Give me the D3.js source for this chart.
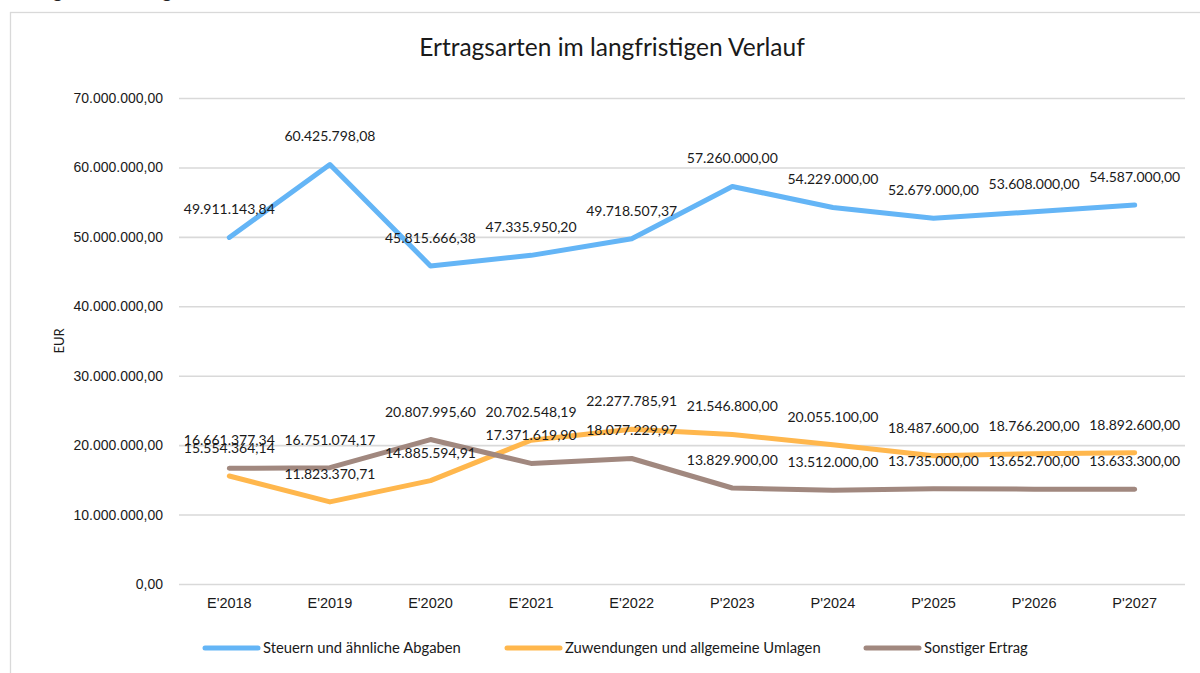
<!DOCTYPE html>
<html>
<head>
<meta charset="utf-8">
<script src="https://cdn.jsdelivr.net/npm/d3@7"></script>
<style>
  body { margin: 0; background: #fff; }
  svg { display: block; font-family: Lato, "Noto Sans", sans-serif; }
</style>
</head>
<body>
<svg id="chart" width="1200" height="673"></svg>
<script>
const categories = ["E'2018", "E'2019", "E'2020", "E'2021", "E'2022", "P'2023", "P'2024", "P'2025", "P'2026", "P'2027"];
const steuern = [49911143.84, 60425798.08, 45815666.38, 47335950.20, 49718507.37, 57260000, 54229000, 52679000, 53608000, 54587000];
const zuwendungen = [15554364.14, 11823370.71, 14885594.91, 20702548.19, 22277785.91, 21546800, 20055100, 18487600, 18766200, 18892600];
const sonstiger = [16661377.34, 16751074.17, 20807995.60, 17371619.90, 18077229.97, 13829900, 13512000, 13735000, 13652700, 13633300];
const yTicks = [0, 10000000, 20000000, 30000000, 40000000, 50000000, 60000000, 70000000];

const series = [
    { name: "Steuern und ähnliche Abgaben", values: steuern, color: "#64b5f6" },
    { name: "Zuwendungen und allgemeine Umlagen", values: zuwendungen, color: "#ffb74d" },
    { name: "Sonstiger Ertrag", values: sonstiger, color: "#a1887f" }
];

const de = d3.formatLocale({ decimal: ",", thousands: ".", grouping: [3], currency: ["", " €"] });
const fmt = de.format(",.2f");

const svg = d3.select("#chart");

// outer chart frame (cut at the page edge)
svg.append("rect")
    .attr("x", 10.5).attr("y", 12.5)
    .attr("width", 1220).attr("height", 700)
    .attr("fill", "none").attr("stroke", "#d9d9d9").attr("stroke-width", 1.3);

// heading text above the frame, mostly cut off
svg.append("text")
    .attr("x", 12).attr("y", -2)
    .style("font-size", "19px").attr("fill", "#222")
    .text("Ertragsentwicklung");

svg.append("text")
    .attr("x", 612).attr("y", 56)
    .attr("text-anchor", "middle")
    .style("font-size", "24.5px").attr("fill", "#1a1a1a")
    .text("Ertragsarten im langfristigen Verlauf");

const plot = { left: 179, right: 1185, top: 98, bottom: 584 };

const x = d3.scaleBand().domain(categories).range([plot.left, plot.right]);
const y = d3.scaleLinear().domain([0, 70000000]).range([plot.bottom, plot.top]);

// gridlines
svg.append("g")
    .attr("transform", `translate(${plot.left},0)`)
    .call(d3.axisLeft(y).tickValues(yTicks).tickSize(-(plot.right - plot.left)).tickFormat(""))
    .call(g => g.select(".domain").remove())
    .call(g => g.selectAll("line").attr("stroke", "#d9d9d9").attr("stroke-width", 1.6));

// y axis labels
svg.append("g")
    .attr("transform", `translate(${plot.left},0)`)
    .call(d3.axisLeft(y).tickValues(yTicks).tickSize(0).tickPadding(16).tickFormat(fmt))
    .call(g => g.select(".domain").remove())
    .call(g => g.selectAll("text").style("font-size", "14px").attr("fill", "#1a1a1a").attr("font-family", null));

// x axis labels
svg.append("g")
    .attr("transform", `translate(0,${plot.bottom})`)
    .call(d3.axisBottom(x).tickSize(0).tickPadding(14))
    .call(g => g.select(".domain").remove())
    .call(g => g.selectAll("text").style("font-size", "14.5px").attr("fill", "#1a1a1a").attr("font-family", null));

svg.append("text")
    .attr("transform", "translate(64,341) rotate(-90)")
    .attr("text-anchor", "middle")
    .style("font-size", "13px").attr("fill", "#1a1a1a")
    .text("EUR");

const line = d3.line()
    .x((d, i) => x(categories[i]) + x.bandwidth() / 2)
    .y(d => y(d));

series.forEach(s => {
    svg.append("path")
        .datum(s.values)
        .attr("d", line)
        .attr("fill", "none")
        .attr("stroke", s.color)
        .attr("stroke-width", 5)
        .attr("stroke-linecap", "round")
        .attr("stroke-linejoin", "round");
});

// data labels above each point
series.forEach(s => {
    svg.append("g").selectAll("text")
        .data(s.values)
        .join("text")
        .attr("x", (d, i) => x(categories[i]) + x.bandwidth() / 2)
        .attr("y", d => y(d) - 23)
        .attr("text-anchor", "middle")
        .style("font-size", "14px")
        .attr("fill", "#1a1a1a")
        .text(d => fmt(d));
});

// legend
const legendPos = [205, 507, 866];
const legend = svg.append("g");
series.forEach((s, i) => {
    const lx = legendPos[i];
    legend.append("line")
        .attr("x1", lx).attr("x2", lx + 53)
        .attr("y1", 648).attr("y2", 648)
        .attr("stroke", s.color).attr("stroke-width", 5)
        .attr("stroke-linecap", "round");
    legend.append("text")
        .attr("x", lx + 58).attr("y", 653)
        .style("font-size", "14.8px").attr("fill", "#1a1a1a")
        .text(s.name);
});
</script>
</body>
</html>
